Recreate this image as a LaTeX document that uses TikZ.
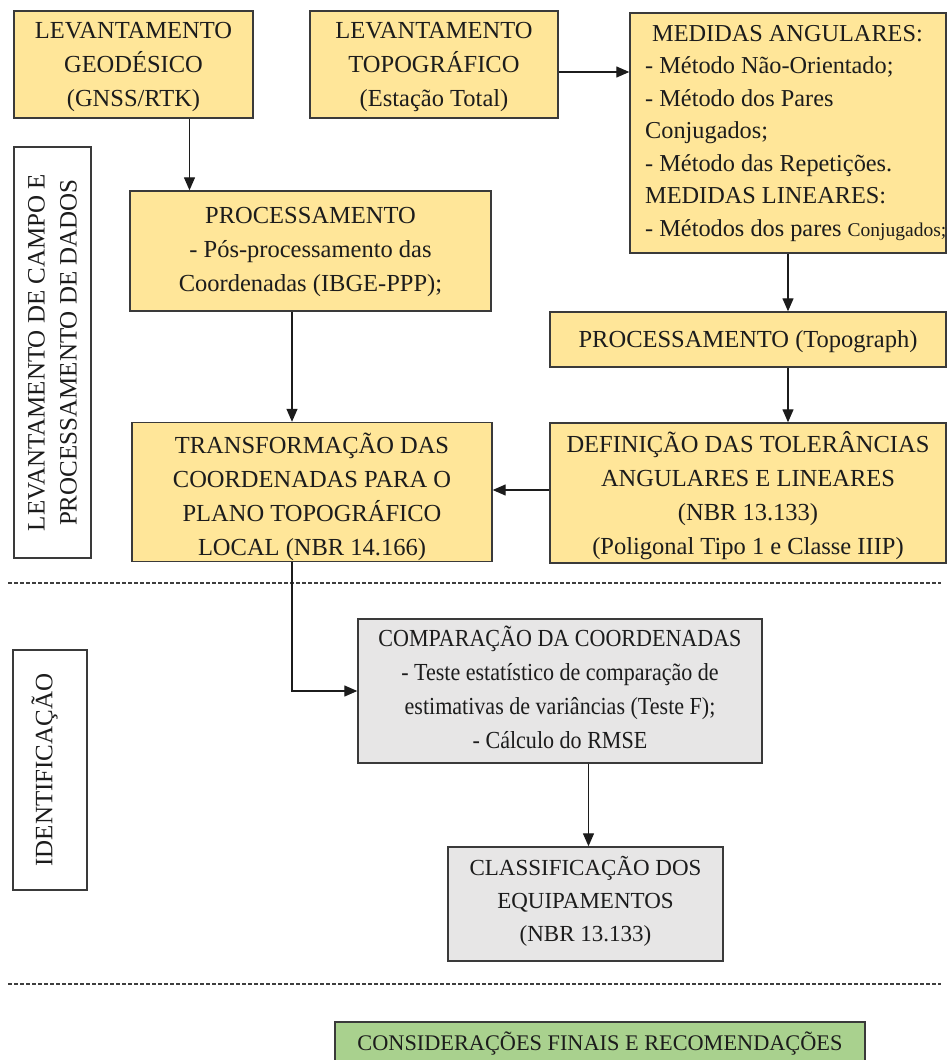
\documentclass[tikz,border=0pt]{standalone}
\usepackage{fontspec}
\setmainfont{Liberation Serif}
\newfontfamily\narrowserif[FakeStretch=0.9]{Liberation Serif}
\usetikzlibrary{arrows.meta}

\definecolor{boxyellow}{HTML}{FFE699}
\definecolor{boxgray}{HTML}{E7E6E6}
\definecolor{boxgreen}{HTML}{A9D18E}
\definecolor{edge}{HTML}{3A3A3A}
\definecolor{ink}{HTML}{1C1C1C}

% invisible struts that nudge a text block down (tall first line) or up (deep last line)
\newcommand\toppad[1]{\rule{0pt}{#1pt}}
\newcommand\botpad[1]{\rule[-#1pt]{0pt}{0pt}}

\tikzset{
  base/.style={draw=edge, line width=1.4pt, inner sep=0pt, align=center,
               text=ink, font=\fontsize{24.5}{34}\selectfont},
  ybox/.style={base, fill=boxyellow},
  graybox/.style={base, fill=boxgray},
  greenbox/.style={base, fill=boxgreen},
  sidebox/.style={base, fill=white, rotate=90},
  plain/.style={inner sep=0pt, text=ink},
  arr/.style={line width=1.3pt, draw=ink, -{Triangle[length=13pt,width=11pt]}},
  sepline/.style={line width=1.1pt, draw=ink!85, dash pattern=on 4pt off 2pt}
}

\begin{document}
\begin{tikzpicture}[x=1pt, y=-1pt]
  \useasboundingbox (0,0) rectangle (947,1060);

  % --- field survey and data processing ---
  \node[ybox, minimum width=239, minimum height=107] (A) at (133.5,64.5)
    {\toppad{22}LEVANTAMENTO\\GEODÉSICO\\(GNSS/RTK)};
  \node[ybox, minimum width=248, minimum height=107] (B) at (434,64.5)
    {\toppad{22}LEVANTAMENTO\\TOPOGRÁFICO\\(Estação Total)};
  \node[ybox, minimum width=316, minimum height=240] (C) at (788,133) {};
  \node[plain, anchor=north west, align=left,
        font=\fontsize{24.3}{32.5}\selectfont] (Ctext) at (645,25)
    {\hspace*{7pt}MEDIDAS ANGULARES:\\
     - Método Não-Orientado;\\
     - Método dos Pares\\
     Conjugados;\\
     - Método das Repetições.\\
     MEDIDAS LINEARES:\\
     - Métodos dos pares {\fontsize{19.5}{32.5}\selectfont Conjugados;}};

  \node[ybox, minimum width=361, minimum height=120] (D) at (310.5,251)
    {\toppad{18.5}PROCESSAMENTO\\- Pós-processamento das\\Coordenadas (IBGE-PPP);};
  \node[ybox, minimum width=360, minimum height=139] (E) at (312,492)
    {\toppad{31}TRANSFORMAÇÃO DAS\\COORDENADAS PARA O\\PLANO TOPOGRÁFICO\\LOCAL (NBR 14.166)};
  \node[ybox, minimum width=396, minimum height=55] (G) at (748,339.5)
    {\toppad{21}PROCESSAMENTO (Topograph)};
  \node[ybox, minimum width=396, minimum height=140] (H) at (748,493)
    {\toppad{26}DEFINIÇÃO DAS TOLERÂNCIAS\\ANGULARES E LINEARES\\(NBR 13.133)\\(Poligonal Tipo 1 e Classe IIIP)};

  \node[sidebox, minimum width=411, minimum height=77,
        font=\fontsize{25}{32}\selectfont] (F) at (52.5,352.5)
    {LEVANTAMENTO DE CAMPO E\\PROCESSAMENTO DE DADOS};

  % --- identification ---
  \node[graybox, minimum width=404, minimum height=144,
        font=\narrowserif\fontsize{24.5}{34}\selectfont] (I) at (560,691)
    {COMPARAÇÃO DA COORDENADAS\\- Teste estatístico de comparação de\\estimativas de variâncias (Teste F);\\- Cálculo do RMSE\botpad{7}};
  \node[graybox, minimum width=275, minimum height=114,
        font=\fontsize{23}{33}\selectfont] (J) at (585.5,904)
    {CLASSIFICAÇÃO DOS\\EQUIPAMENTOS\\(NBR 13.133)\botpad{10}};
  \node[sidebox, minimum width=240, minimum height=74, text depth=16pt,
        font=\fontsize{25}{32}\selectfont] (L) at (50,770)
    {IDENTIFICAÇÃO};

  % --- conclusions ---
  \node[greenbox, minimum width=530, minimum height=52, text height=15pt,
        text depth=10pt, font=\fontsize{22.3}{30}\selectfont] (K) at (600,1048)
    {CONSIDERAÇÕES FINAIS E RECOMENDAÇÕES};

  % --- section separators ---
  \draw[sepline] (8,583) -- (941,583);
  \draw[sepline] (8,984) -- (941,984);

  % --- connectors ---
  \draw[arr] ([yshift=-7.5pt]B.east) -- ([yshift=-7.5pt]B.east -| C.west);
  \draw[arr] ([xshift=56pt]A.south) -- ([xshift=56pt]A.south |- D.north);
  \draw[arr] ([xshift=-18.5pt]D.south) -- ([xshift=-18.5pt]D.south |- E.north);
  \draw[arr] (C.south) -- (C.south |- G.north);
  \draw[arr] ([xshift=40pt]G.south) -- ([xshift=40pt]H.north);
  \draw[arr] ([yshift=3pt]H.west) -- ([yshift=3pt]H.west -| E.east);
  \draw[arr] ([xshift=-20pt]E.south) |- (I.west);
  \draw[arr] ([xshift=3pt]J.north |- I.south) -- ([xshift=3pt]J.north);
\end{tikzpicture}
\end{document}
